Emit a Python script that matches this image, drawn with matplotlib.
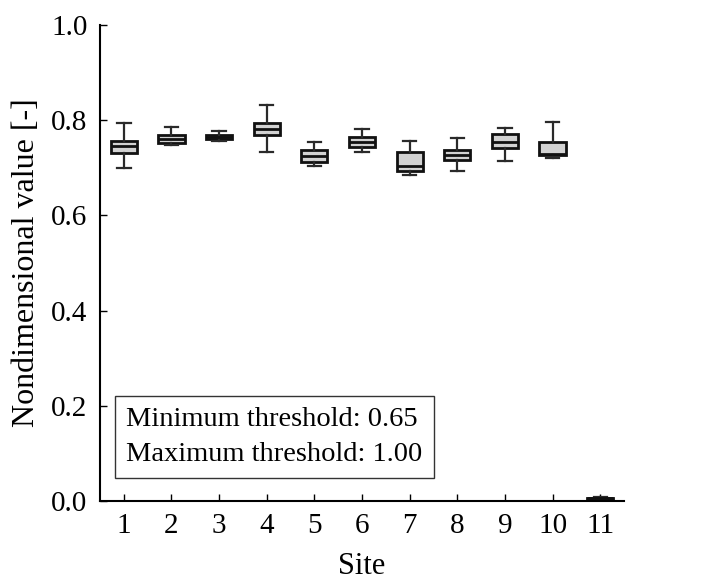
import matplotlib
matplotlib.use("Agg")
import matplotlib.pyplot as plt

# five-number summaries per site
sites = [1, 2, 3, 4, 5, 6, 7, 8, 9, 10, 11]
whislo = [0.699, 0.748, 0.756, 0.733, 0.703, 0.734, 0.685, 0.693, 0.714, 0.721, 0.004]
q1     = [0.731, 0.752, 0.760, 0.768, 0.713, 0.744, 0.694, 0.716, 0.742, 0.727, 0.005]
med    = [0.745, 0.761, 0.764, 0.781, 0.725, 0.754, 0.704, 0.727, 0.755, 0.728, 0.006]
q3     = [0.757, 0.769, 0.769, 0.795, 0.738, 0.765, 0.734, 0.738, 0.770, 0.755, 0.007]
whishi = [0.794, 0.785, 0.778, 0.832, 0.754, 0.782, 0.756, 0.763, 0.784, 0.796, 0.008]

plt.rcParams['font.family'] = ['Liberation Serif', 'DejaVu Serif']

fig = plt.figure(figsize=(7.19, 5.83), dpi=100)
ax = fig.add_axes([0.1391, 0.1407, 0.7288, 0.8165])

stats = []
for i in range(len(sites)):
    stats.append(dict(whislo=whislo[i], q1=q1[i], med=med[i], q3=q3[i],
                      whishi=whishi[i], fliers=[], label=str(sites[i])))

ax.bxp(stats, positions=sites, widths=0.55, patch_artist=True, showfliers=False,
       boxprops=dict(facecolor='#d2d2d2', edgecolor='#111111', linewidth=2),
       medianprops=dict(color='#111111', linewidth=2),
       whiskerprops=dict(color='#2a2a2a', linewidth=1.6),
       capprops=dict(color='#2a2a2a', linewidth=1.6),
       capwidths=0.28)

ax.set_xlim(0.5, 11.5)
ax.set_ylim(0, 1.0)
ax.set_yticks([0.0, 0.2, 0.4, 0.6, 0.8, 1.0])
ax.set_yticklabels(['0.0', '0.2', '0.4', '0.6', '0.8', '1.0'])
ax.set_xticks(sites)
ax.set_xticklabels([str(s) for s in sites])
ax.spines['top'].set_visible(False)
ax.spines['right'].set_visible(False)
ax.spines['left'].set_linewidth(1.5)
ax.spines['bottom'].set_linewidth(1.5)
ax.tick_params(direction='in', length=5, width=1, labelsize=21, pad=9)

ax.set_xlabel('Site', fontsize=22, labelpad=9)
ax.set_ylabel('Nondimensional value [-]', fontsize=23, labelpad=7)

ax.text(0.05, 0.072, 'Minimum threshold: 0.65\nMaximum threshold: 1.00',
        transform=ax.transAxes, fontsize=20.5, ha='left', va='bottom',
        linespacing=1.5,
        bbox=dict(boxstyle='square,pad=0.4', facecolor='white', edgecolor='#333333', linewidth=1))

fig.savefig('out.png', dpi=100)
